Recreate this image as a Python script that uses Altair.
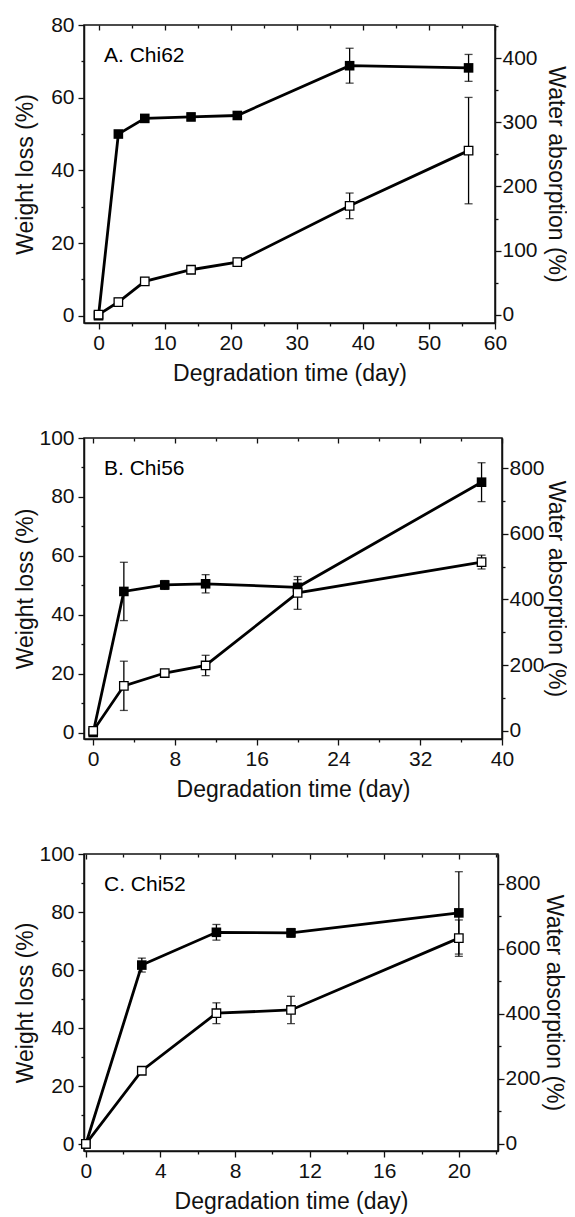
import altair as alt
import pandas as pd

# ---------------- data ----------------
# Panel A. Chi62
a_day = [0, 3, 7, 14, 21, 38, 56]
a_wl = [0, 50.0, 54.3, 54.7, 55.1, 68.8, 68.2]
a_wl_err = [0, 0, 0.8, 1.0, 0.6, 4.8, 3.7]
a_wa = [0, 19.7, 51.9, 70.1, 82.1, 169.8, 256]
a_wa_err = [0, 6, 6, 0, 6, 20, 83]

# Panel B. Chi56
b_day = [0, 3, 7, 11, 20, 38]
b_wl = [0, 47.9, 50.1, 50.5, 49.3, 85.0]
b_wl_err = [0, 9.9, 1.5, 3.1, 2.6, 6.6]
b_wa = [0, 137, 176, 199, 420, 514]
b_wa_err = [0, 75, 10, 31, 50, 21]

# Panel C. Chi52
c_day = [0, 3, 7, 11, 20]
c_wl = [0, 61.7, 73.0, 72.8, 79.7]
c_wl_err = [0, 2.4, 2.7, 1.5, 14.2]
c_wa = [0, 225, 402, 412, 633]
c_wa_err = [0, 8, 32, 42, 56]

panel_labels = ["A. Chi62", "B. Chi56", "C. Chi52"]

FONT = "Liberation Sans, Arial, sans-serif"
LAB = 21
TIT = 23


def cond(step, major, minor):
    return {"condition": {"test": f"datum.value % {step} !== 0", "value": minor}, "value": major}


def panel(days, wl, wl_err, wa, wa_err, label, xdom, xvals, xstep,
          ldom, lvals, lstep, rdom, rvals, rstep, width, height, rtx):
    df = pd.DataFrame({
        "day": days, "wl": wl, "wl_err": wl_err, "wa": wa, "wa_err": wa_err,
    })
    df["wl_lo"] = df["wl"] - df["wl_err"]
    df["wl_hi"] = df["wl"] + df["wl_err"]
    df["wa_lo"] = df["wa"] - df["wa_err"]
    df["wa_hi"] = df["wa"] + df["wa_err"]

    xs = alt.Scale(domain=xdom, nice=False, zero=False)
    ls = alt.Scale(domain=ldom, nice=False, zero=False)
    rs = alt.Scale(domain=rdom, nice=False, zero=False)

    xb_axis = alt.Axis(orient="bottom", values=xvals,
                       labelExpr=f"datum.value % {xstep} === 0 ? datum.label : ''",
                       tickSize=cond(xstep, 6, 3), labelPadding=3,
                       titleY=57, titleBaseline="alphabetic")
    xt_axis = alt.Axis(orient="top", values=xvals, labels=False, title=None,
                       domain=False, tickSize=cond(xstep, -5, -3))
    l_axis = alt.Axis(orient="left", values=lvals,
                      labelExpr=f"datum.value % {lstep} === 0 ? datum.label : ''",
                      tickSize=cond(lstep, 6, 3), labelPadding=4,
                      titleX=-59, titleBaseline="middle", titleAngle=270)
    r_axis = alt.Axis(orient="right", values=rvals,
                      labelExpr=f"datum.value % {rstep} === 0 ? datum.label : ''",
                      tickSize=cond(rstep, 6, 3), labelPadding=1,
                      titleX=rtx, titleBaseline="middle", titleAngle=90)

    xb = alt.X("day:Q", scale=xs, axis=xb_axis, title="Degradation time (day)")
    xt = alt.X("day:Q", scale=xs, axis=xt_axis, title=None)

    def yl(f):
        return alt.Y(f"{f}:Q", scale=ls, axis=l_axis, title="Weight loss (%)")

    def yr(f):
        return alt.Y(f"{f}:Q", scale=rs, axis=r_axis, title="Water absorption (%)")

    base = alt.Chart(df)
    wl_err_base = base.transform_filter("datum.wl_err > 0")
    wa_err_base = base.transform_filter("datum.wa_err > 0")

    left = alt.layer(
        base.mark_line(color="black", strokeWidth=2.8).encode(x=xb, y=yl("wl")),
        wl_err_base.mark_rule(color="black", strokeWidth=1.3).encode(x=xb, y=yl("wl_lo"), y2="wl_hi:Q"),
        wl_err_base.mark_tick(color="black", orient="horizontal", size=8, thickness=1.3).encode(x=xb, y=yl("wl_hi")),
        wl_err_base.mark_tick(color="black", orient="horizontal", size=8, thickness=1.3).encode(x=xb, y=yl("wl_lo")),
        base.mark_square(color="black", size=92, opacity=1).encode(x=xb, y=yl("wl")),
    )

    lab_df = pd.DataFrame({"label": [label]})
    right = alt.layer(
        base.mark_line(color="black", strokeWidth=2.8).encode(x=xt, y=yr("wa")),
        wa_err_base.mark_rule(color="black", strokeWidth=1.3).encode(x=xt, y=yr("wa_lo"), y2="wa_hi:Q"),
        wa_err_base.mark_tick(color="black", orient="horizontal", size=8, thickness=1.3).encode(x=xt, y=yr("wa_hi")),
        wa_err_base.mark_tick(color="black", orient="horizontal", size=8, thickness=1.3).encode(x=xt, y=yr("wa_lo")),
        base.mark_square(fill="white", stroke="black", strokeWidth=1.3, size=72, opacity=1,
                         filled=True).encode(x=xt, y=yr("wa")),
    )
    text = alt.Chart(lab_df).mark_text(align="left", baseline="alphabetic", font=FONT,
                                       fontSize=21, color="black").encode(
        x=alt.value(20), y=alt.value(36.5), text="label:N")

    return alt.layer(left, right, text).resolve_scale(y="independent").resolve_axis(
        x="independent").properties(width=width, height=height)


pa = panel(a_day, a_wl, a_wl_err, a_wa, a_wa_err, panel_labels[0],
           [-2.2, 60], list(range(0, 61, 5)), 10,
           [-2, 80], list(range(0, 81, 10)), 20,
           [-13, 452], list(range(0, 451, 50)), 100, 411, 298, 60)
pb = panel(b_day, b_wl, b_wl_err, b_wa, b_wa_err, panel_labels[1],
           [-0.9, 40], list(range(0, 41, 4)), 8,
           [-2.2, 100], list(range(0, 101, 10)), 20,
           [-25, 892], list(range(0, 851, 100)), 200, 418, 301, 53)
pc = panel(c_day, c_wl, c_wl_err, c_wa, c_wa_err, panel_labels[2],
           [-0.1, 22.1], list(range(0, 23, 2)), 4,
           [-2.4, 100], list(range(0, 101, 10)), 20,
           [-22, 892], list(range(0, 851, 100)), 200, 414, 297, 55)

chart = alt.vconcat(pa, pb, pc, spacing=40).properties(
    padding={"left": 13, "top": 13, "right": 0, "bottom": 0},
    background="white",
).configure_axis(
    labelFont=FONT, labelFontSize=LAB, labelColor="#111",
    titleFont=FONT, titleFontSize=TIT, titleFontWeight="normal", titleColor="#111",
    domainColor="#111", domainWidth=1.5, tickColor="#111", tickWidth=1.3,
    grid=False, labelFlush=False, labelOverlap=False,
).configure_view(stroke="#111", strokeWidth=1.5)

chart.save("out.html", embed_options={"renderer": "svg", "actions": False})
